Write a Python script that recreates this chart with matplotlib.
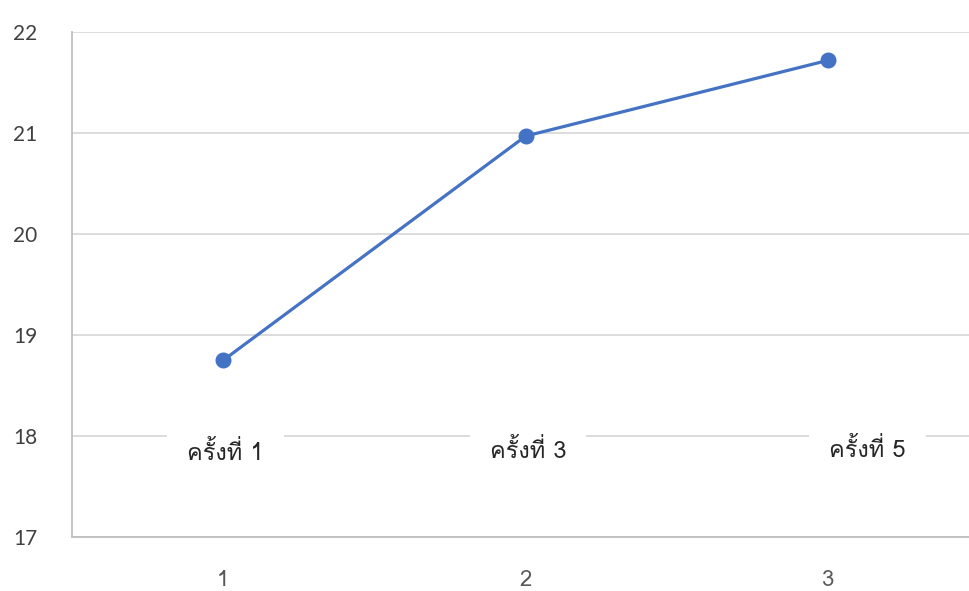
import matplotlib
matplotlib.use("Agg")
import matplotlib.pyplot as plt

# chart data
x_vals = [1, 2, 3]
y_vals = [18.75, 20.97, 21.72]
x_tick_labels = ["1", "2", "3"]
round_labels = ["ครั้งที่ 1", "ครั้งที่ 3", "ครั้งที่ 5"]
y_ticks = [17, 18, 19, 20, 21, 22]

THAI = ["Loma", "DejaVu Sans"]

fig = plt.figure(figsize=(9.7, 5.91), dpi=100)
ax = fig.add_axes([72 / 970, 54 / 591, 907.5 / 970, 505 / 591])

ax.plot(x_vals, y_vals, color="#4472C4", lw=2.3, marker="o", ms=10.5,
        solid_capstyle="round", zorder=4, clip_on=False)

ax.set_xlim(0.5, 3.5)
ax.set_ylim(17, 22)
ax.set_yticks(y_ticks)
ax.set_xticks(x_vals)
ax.set_xticklabels(x_tick_labels)
ax.grid(axis="y", color="#d9d9d9", lw=1.3, zorder=0)
ax.set_axisbelow(True)

for s in ["top", "right"]:
    ax.spines[s].set_visible(False)
for s in ["left", "bottom"]:
    ax.spines[s].set_color("#bfbfbf")
    ax.spines[s].set_linewidth(1.3)

ax.tick_params(axis="both", length=0)
ax.tick_params(axis="y", pad=25, labelsize=15, labelcolor="#404040")
ax.tick_params(axis="x", pad=24, labelsize=16, labelcolor="#595959")
for lbl in ax.get_yticklabels():
    lbl.set_family(["Lato", "DejaVu Sans"])
    lbl.set_verticalalignment("center_baseline")
for lbl in ax.get_xticklabels():
    lbl.set_family(THAI)

# category labels sitting on the 18 gridline
label_x = [1.007, 2.008, 3.13]
label_y = [17.83, 17.85, 17.86]
for lx, ly, txt in zip(label_x, label_y, round_labels):
    ax.text(lx, ly, txt, ha="center", va="center", fontsize=17,
            family=THAI, color="#262626", zorder=3,
            bbox=dict(boxstyle="square,pad=0.85", fc="white", ec="none"))

fig.savefig("out.png", dpi=100)
